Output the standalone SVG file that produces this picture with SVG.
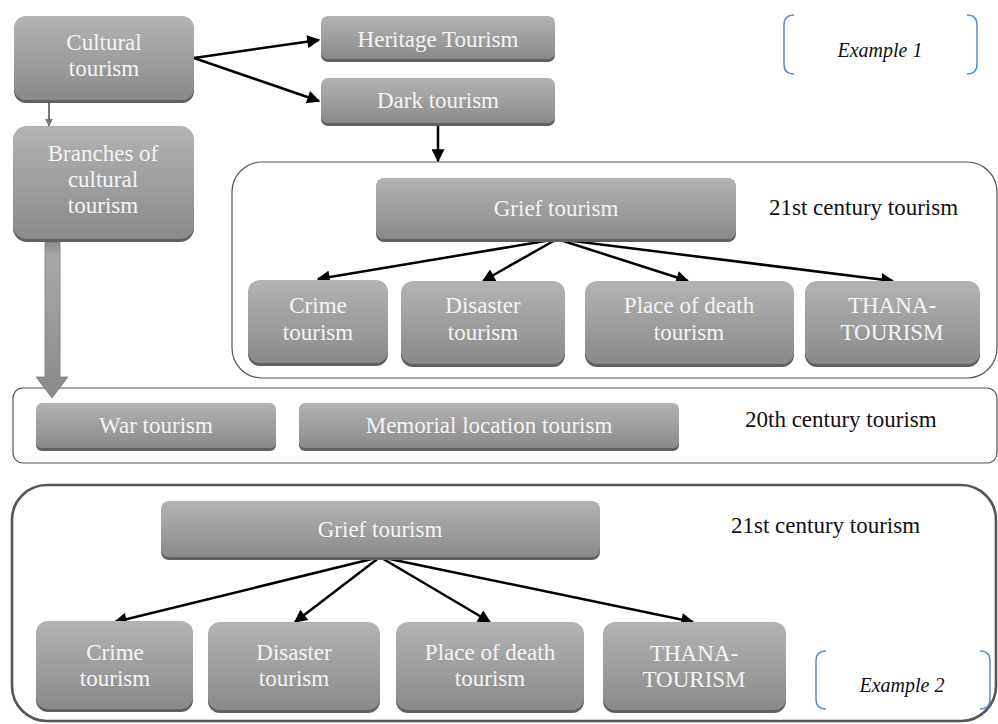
<svg xmlns="http://www.w3.org/2000/svg" width="998" height="724" viewBox="0 0 998 724">
<defs>
<linearGradient id="g" x1="0" y1="0" x2="0" y2="1">
<stop offset="0" stop-color="#b3b3b3"/>
<stop offset="1" stop-color="#8a8a8a"/>
</linearGradient>
<linearGradient id="ga" x1="0" y1="0" x2="0" y2="1">
<stop offset="0" stop-color="#8c8c8c"/>
<stop offset="0.1" stop-color="#a8a8a8"/>
<stop offset="1" stop-color="#8a8a8a"/>
</linearGradient>
<marker id="ah" viewBox="0 0 10 10" refX="9" refY="5" markerWidth="6" markerHeight="5.2" markerUnits="strokeWidth" orient="auto">
<path d="M0,0 L10,5 L0,10 z" fill="#000"/>
</marker>
<marker id="sm" viewBox="0 0 10 10" refX="9" refY="5" markerWidth="4" markerHeight="4" markerUnits="strokeWidth" orient="auto">
<path d="M0,0 L10,5 L0,10 z" fill="#777"/>
</marker>
</defs>
<style>
.sh{fill:#606060}
.bx{fill:url(#g)}
.t{font-family:"Liberation Serif","DejaVu Serif",serif;font-size:23px;fill:#f4f4f4;text-anchor:middle}
.k{font-family:"Liberation Serif","DejaVu Serif",serif;font-size:23px;fill:#111}
.ex{font-family:"Liberation Serif","DejaVu Serif",serif;font-size:20px;font-style:italic;fill:#111;text-anchor:middle}
.c{fill:#fff;stroke:#555;stroke-width:1.2}
.c3{fill:#fff;stroke:#555;stroke-width:2.6}
.br{fill:none;stroke:#5b8bd5;stroke-width:1.5}
.ln{fill:none;stroke:#000;stroke-width:2.5;marker-end:url(#ah)}
</style>

<g id="containers">
<rect class="c" x="232" y="162" width="765" height="216" rx="30"/>
<rect class="c" x="13" y="388" width="984" height="75" rx="10"/>
<rect class="c3" x="12" y="485" width="984" height="236" rx="35"/>
</g>

<g id="connectors">
<line class="ln" x1="194" y1="58" x2="319" y2="40"/>
<line class="ln" x1="194" y1="58" x2="319" y2="101"/>
<line class="ln" x1="438" y1="126" x2="438" y2="161"/>
<line class="ln" x1="557" y1="239" x2="318" y2="279"/>
<line class="ln" x1="557" y1="239" x2="483" y2="281"/>
<line class="ln" x1="557" y1="239" x2="688" y2="281"/>
<line class="ln" x1="557" y1="239" x2="893" y2="281"/>
<line class="ln" x1="380" y1="557" x2="115" y2="622"/>
<line class="ln" x1="380" y1="557" x2="295" y2="622"/>
<line class="ln" x1="380" y1="557" x2="490" y2="622"/>
<line class="ln" x1="380" y1="557" x2="693" y2="622"/>
<line x1="49" y1="103" x2="49" y2="126" stroke="#777" stroke-width="2" marker-end="url(#sm)"/>
<path d="M45,242 L60,242 L60,377 L68,377 L52,398 L36,377 L45,377 z" fill="url(#ga)" stroke="#7a7a7a" stroke-width="0.8"/>
</g>

<g id="cultural">
<rect class="sh" x="14" y="19" width="180" height="84" rx="12"/>
<rect class="bx" x="14" y="16" width="180" height="84" rx="12"/>
<text class="t" x="104" y="50">Cultural</text>
<text class="t" x="104" y="76">tourism</text>
</g>
<g id="branches">
<rect class="sh" x="13" y="129" width="181" height="113" rx="14"/>
<rect class="bx" x="13" y="126" width="181" height="113" rx="14"/>
<text class="t" x="103" y="161">Branches of</text>
<text class="t" x="103" y="187">cultural</text>
<text class="t" x="103" y="213">tourism</text>
</g>
<g id="heritage">
<rect class="sh" x="321" y="19" width="234" height="43" rx="7"/>
<rect class="bx" x="321" y="16" width="234" height="43" rx="7"/>
<text class="t" x="438" y="47">Heritage Tourism</text>
</g>
<g id="dark">
<rect class="sh" x="321" y="81" width="234" height="45" rx="7"/>
<rect class="bx" x="321" y="78" width="234" height="45" rx="7"/>
<text class="t" x="438" y="108">Dark tourism</text>
</g>

<g id="grief1">
<rect class="sh" x="376" y="181" width="360" height="61" rx="8"/>
<rect class="bx" x="376" y="178" width="360" height="61" rx="8"/>
<text class="t" x="556" y="216">Grief tourism</text>
</g>
<text class="k" x="769" y="215">21st century tourism</text>
<g id="crime1">
<rect class="sh" x="248" y="283" width="140" height="83" rx="12"/>
<rect class="bx" x="248" y="280" width="140" height="83" rx="12"/>
<text class="t" x="318" y="313">Crime</text>
<text class="t" x="318" y="340">tourism</text>
</g>
<g id="disaster1">
<rect class="sh" x="401" y="284" width="164" height="83" rx="12"/>
<rect class="bx" x="401" y="281" width="164" height="83" rx="12"/>
<text class="t" x="483" y="313">Disaster</text>
<text class="t" x="483" y="340">tourism</text>
</g>
<g id="place1">
<rect class="sh" x="585" y="284" width="209" height="83" rx="12"/>
<rect class="bx" x="585" y="281" width="209" height="83" rx="12"/>
<text class="t" x="689" y="313">Place of death</text>
<text class="t" x="689" y="340">tourism</text>
</g>
<g id="thana1">
<rect class="sh" x="805" y="284" width="175" height="83" rx="12"/>
<rect class="bx" x="805" y="281" width="175" height="83" rx="12"/>
<text class="t" x="892" y="313">THANA-</text>
<text class="t" x="892" y="340">TOURISM</text>
</g>

<g id="war">
<rect class="sh" x="36" y="406" width="240" height="45" rx="6"/>
<rect class="bx" x="36" y="403" width="240" height="45" rx="6"/>
<text class="t" x="156" y="433">War tourism</text>
</g>
<g id="memorial">
<rect class="sh" x="299" y="406" width="380" height="45" rx="6"/>
<rect class="bx" x="299" y="403" width="380" height="45" rx="6"/>
<text class="t" x="489" y="433">Memorial location tourism</text>
</g>
<text class="k" x="745" y="427">20th century tourism</text>

<g id="grief2">
<rect class="sh" x="161" y="504" width="439" height="56" rx="8"/>
<rect class="bx" x="161" y="501" width="439" height="56" rx="8"/>
<text class="t" x="380" y="537">Grief tourism</text>
</g>
<text class="k" x="731" y="533">21st century tourism</text>
<g id="crime2">
<rect class="sh" x="36" y="624" width="157" height="88" rx="12"/>
<rect class="bx" x="36" y="621" width="157" height="88" rx="12"/>
<text class="t" x="115" y="660">Crime</text>
<text class="t" x="115" y="686">tourism</text>
</g>
<g id="disaster2">
<rect class="sh" x="208" y="625" width="172" height="88" rx="12"/>
<rect class="bx" x="208" y="622" width="172" height="88" rx="12"/>
<text class="t" x="294" y="660">Disaster</text>
<text class="t" x="294" y="686">tourism</text>
</g>
<g id="place2">
<rect class="sh" x="396" y="625" width="188" height="88" rx="12"/>
<rect class="bx" x="396" y="622" width="188" height="88" rx="12"/>
<text class="t" x="490" y="660">Place of death</text>
<text class="t" x="490" y="686">tourism</text>
</g>
<g id="thana2">
<rect class="sh" x="603" y="625" width="183" height="88" rx="12"/>
<rect class="bx" x="603" y="622" width="183" height="88" rx="12"/>
<text class="t" x="694" y="661">THANA-</text>
<text class="t" x="694" y="687">TOURISM</text>
</g>

<g id="example1">
<path class="br" d="M794,15 Q784,15 784,25 L784,64 Q784,74 794,74"/>
<path class="br" d="M967,15 Q977,15 977,25 L977,64 Q977,74 967,74"/>
<text class="ex" x="880" y="57">Example 1</text>
</g>
<g id="example2">
<path class="br" d="M826,651 Q816,651 816,661 L816,699 Q816,709 826,709"/>
<path class="br" d="M980,651 Q990,651 990,661 L990,699 Q990,709 980,709"/>
<text class="ex" x="902" y="692">Example 2</text>
</g>
</svg>
